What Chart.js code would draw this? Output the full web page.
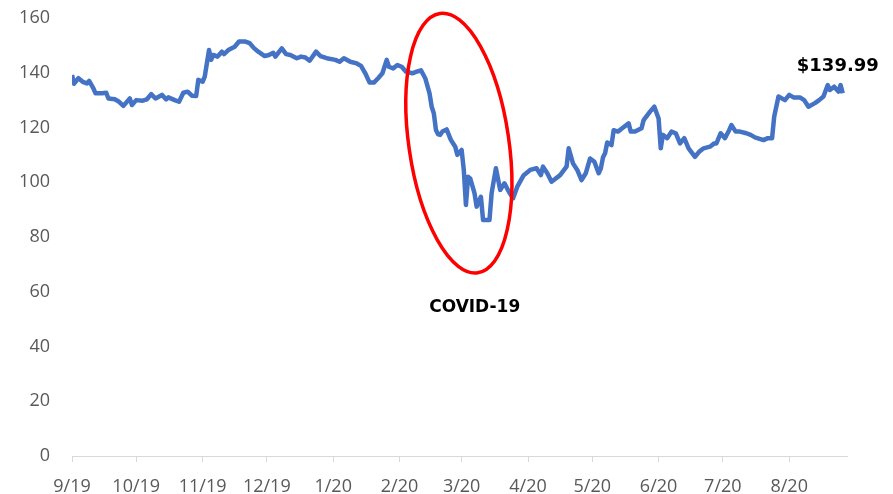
<!DOCTYPE html>
<html>
<head>
<meta charset="utf-8">
<script src="https://cdn.jsdelivr.net/npm/chart.js@4/dist/chart.umd.min.js"></script>
<style>
  html, body { margin: 0; padding: 0; background: #fff; }
  #wrap { width: 893px; height: 494px; }
</style>
</head>
<body>
<div id="wrap"><canvas id="price-chart" width="893" height="494"></canvas></div>
<script>
/* Data */
// days since 2019-09-01
const days = [
  0, 1, 3, 5, 7, 8, 10, 11, 14, 16, 17, 20, 22, 24, 27, 28, 30, 33, 35, 37,
  39, 42, 44, 45, 48, 50, 52, 54, 56, 58, 59, 61, 62, 64, 65, 66, 68, 70, 71, 73,
  76, 78, 81, 83, 85, 87, 90, 92, 94, 95, 98, 100, 102, 105, 107, 109, 111, 114, 116, 119,
  123, 125, 127, 130, 133, 135, 137, 139, 141, 143, 145, 147, 148, 150, 152, 154, 156, 159, 161, 163,
  165, 167, 168, 169, 170, 171, 172, 173, 175, 177, 179, 180, 182, 183, 184, 185, 186, 188, 189, 191,
  192, 195, 196, 198, 200, 201, 202, 204, 206, 208, 211, 214, 217, 219, 220, 222, 224, 228, 231, 232,
  234, 236, 238, 240, 242, 244, 246, 247, 248, 249, 250, 252, 253, 255, 257, 260, 261, 263, 266, 267,
  270, 272, 274, 275, 276, 278, 280, 282, 284, 286, 288, 291, 293, 295, 298, 300, 301, 303, 305, 307,
  308, 310, 312, 315, 317, 319, 323, 325, 327, 328, 330, 333, 335, 337, 340, 342, 344, 347, 349, 351,
  353, 354, 356, 358, 359, 360
];
const prices = [
  139.2, 136.0, 138.0, 136.7, 136.1, 137.0, 134.3, 132.5, 132.5, 132.7, 130.6, 130.3, 129.4, 127.9, 130.6, 128.2, 130.0, 129.8, 130.3, 132.2,
  130.6, 131.9, 130.3, 131.0, 130.0, 129.4, 132.7, 133.1, 131.6, 131.5, 137.4, 136.7, 138.6, 148.3, 144.7, 146.5, 145.9, 147.7, 146.8, 148.3,
  149.5, 151.4, 151.4, 150.8, 149.0, 147.7, 146.1, 146.5, 147.3, 145.9, 148.9, 146.8, 146.5, 145.3, 145.9, 145.6, 144.4, 147.7, 146.1, 145.3,
  144.7, 144.0, 145.3, 144.0, 143.4, 142.5, 139.8, 136.4, 136.4, 138.0, 139.8, 144.7, 142.2, 141.6, 142.8, 142.2, 140.4, 139.8, 140.4, 140.9,
  138.0, 132.5, 127.6, 125.2, 119.1, 117.5, 117.3, 118.5, 119.3, 115.4, 113.0, 110.0, 111.8, 104.5, 91.7, 102.0, 101.4, 96.0, 91.1, 94.7,
  86.2, 86.2, 96.0, 105.1, 97.2, 98.4, 99.6, 96.6, 94.1, 98.4, 102.6, 104.5, 105.1, 102.6, 105.7, 103.3, 100.2, 102.6, 105.7, 112.4,
  106.9, 104.5, 100.8, 103.3, 108.7, 107.5, 103.3, 105.0, 109.0, 110.6, 114.5, 113.6, 119.0, 118.5, 119.7, 121.5, 118.5, 118.5, 119.7, 122.7,
  125.8, 127.6, 123.3, 112.4, 117.3, 116.1, 118.5, 117.9, 114.2, 116.1, 112.4, 109.3, 111.2, 112.4, 113.0, 114.2, 114.2, 117.9, 116.1, 119.1,
  120.9, 118.5, 118.5, 117.9, 117.3, 116.4, 115.4, 116.1, 116.1, 124.0, 131.3, 130.0, 131.9, 131.0, 131.0, 130.0, 127.6, 128.9, 130.0, 131.3,
  135.5, 133.7, 134.9, 133.1, 135.5, 132.5
];
const tickLabels = ['9/19', '10/19', '11/19', '12/19', '1/20', '2/20', '3/20', '4/20', '5/20', '6/20', '7/20', '8/20'];
const yTicks = [0, 20, 40, 60, 80, 100, 120, 140, 160];
const lastPriceLabel = '$139.99';
const eventLabel = 'COVID-19';

// Setup
const startDay = Date.UTC(2019, 8, 1);
const tickDays = tickLabels.map(t => {
  const [m, y] = t.split('/').map(Number);
  return Math.round((Date.UTC(2000 + y, m - 1, 1) - startDay) / 86400000);
});

const data = {
  datasets: [{
    label: 'Price',
    data: days.map((d, i) => ({ x: d, y: prices[i] })),
    borderColor: '#4472C4',
    borderWidth: 4.5,
    pointRadius: 0,
    tension: 0,
    borderJoinStyle: 'round'
  }]
};

// ellipse round the crash plus the two notes
const notes = {
  id: 'notes',
  afterDatasetsDraw(chart) {
    const { ctx, scales: { x, y } } = chart;
    ctx.save();
    ctx.strokeStyle = '#FF0000';
    ctx.lineWidth = 3.5;
    ctx.beginPath();
    ctx.ellipse(x.getPixelForValue(180.7), y.getPixelForValue(114.3), 50, 131, -0.145, 0, Math.PI * 2);
    ctx.stroke();

    ctx.fillStyle = '#000';
    ctx.textAlign = 'center';
    ctx.textBaseline = 'middle';
    ctx.font = 'bold 17px "DejaVu Sans"';
    ctx.fillText(eventLabel, x.getPixelForValue(188.1), y.getPixelForValue(54.1));
    ctx.font = 'bold 18px "DejaVu Sans"';
    ctx.fillText(lastPriceLabel, x.getPixelForValue(357.7), y.getPixelForValue(142.5));
    ctx.restore();
  }
};

// Config
const config = {
  type: 'line',
  data: data,
  plugins: [notes],
  options: {
    responsive: false,
    animation: false,
    layout: { padding: { top: 18, right: 46, bottom: 0, left: 0 } },
    plugins: {
      legend: { display: false },
      tooltip: { enabled: false }
    },
    scales: {
      x: {
        type: 'linear',
        min: 0,
        max: 362,
        afterBuildTicks: axis => { axis.ticks = tickDays.map(v => ({ value: v })); },
        afterFit: axis => {
          axis.height = 38;
          axis.paddingLeft = 0;
          axis.paddingRight = 0;
        },
        grid: {
          drawOnChartArea: false,
          drawTicks: true,
          tickLength: 6,
          color: '#d9d9d9'
        },
        border: { color: '#d9d9d9', width: 1 },
        ticks: {
          autoSkip: false,
          maxRotation: 0,
          padding: 14,
          color: '#595959',
          font: { family: '"Open Sans"', size: 18 },
          callback: (v, i) => tickLabels[i]
        }
      },
      y: {
        min: yTicks[0],
        max: yTicks[yTicks.length - 1],
        afterBuildTicks: axis => { axis.ticks = yTicks.map(v => ({ value: v })); },
        afterFit: axis => {
          axis.width = 72;
          axis.paddingTop = 0;
          axis.paddingBottom = 0;
        },
        grid: { display: false, drawTicks: false },
        border: { display: false },
        ticks: {
          padding: 22,
          color: '#595959',
          font: { family: '"Open Sans"', size: 18 }
        }
      }
    }
  }
};

// Chart Activation
let ctx = document.getElementById('price-chart').getContext('2d');
let priceChart = new Chart(ctx, config);
</script>
</body>
</html>
